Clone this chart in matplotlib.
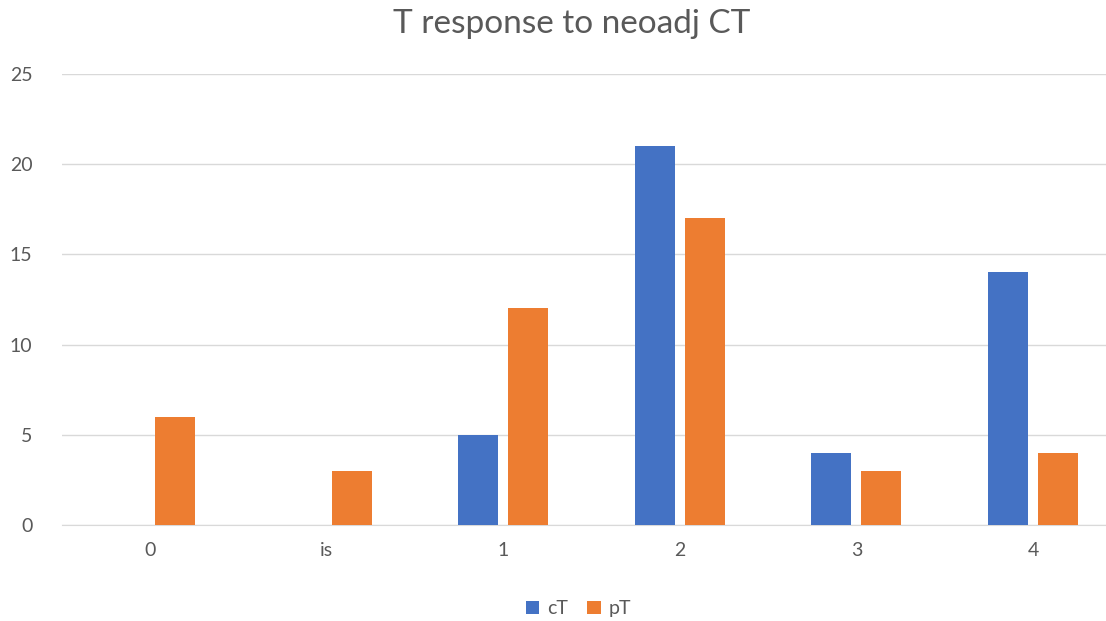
import matplotlib
matplotlib.use("Agg")
import matplotlib.pyplot as plt
import numpy as np

categories = ["0", "is", "1", "2", "3", "4"]
cT = [0, 0, 5, 21, 4, 14]
pT = [6, 3, 12, 17, 3, 4]

plt.rcParams['font.family'] = ['Lato', 'DejaVu Sans']
txt = '#595959'

fig = plt.figure(figsize=(11.06, 6.21), dpi=100)
# the plot area runs past the right edge of the picture, as in the reference
ax = fig.add_axes([0.0558, 0.1546, 0.958, 0.7264])

x = np.arange(len(categories))
w = 0.227
off = 0.142
ax.bar(x - off, cT, w, color='#4472C4', label='cT', zorder=3)
ax.bar(x + off, pT, w, color='#ED7D31', label='pT', zorder=3)

ax.set_xlim(-0.5, len(categories) - 0.5)
ax.set_ylim(0, 25)
ax.set_yticks(range(0, 26, 5))
ax.set_xticks(x)
ax.set_xticklabels(categories)
ax.grid(axis='y', color='#D9D9D9', linewidth=1, zorder=0)
for s in ['top', 'right', 'left']:
    ax.spines[s].set_visible(False)
ax.spines['bottom'].set_color('#D9D9D9')
ax.tick_params(length=0, labelsize=14, colors=txt)
ax.tick_params(axis='y', pad=21)
ax.tick_params(axis='x', pad=12)

fig.suptitle("T response to neoadj CT", fontsize=24, color=txt, x=0.517, y=0.986)
fig.legend(loc='lower center', ncol=2, frameon=False, fontsize=14,
           labelcolor=txt, handlelength=0.7, handleheight=0.7,
           columnspacing=1.0, handletextpad=0.4, bbox_to_anchor=(0.523, -0.022))

fig.savefig("out.png", dpi=100)
